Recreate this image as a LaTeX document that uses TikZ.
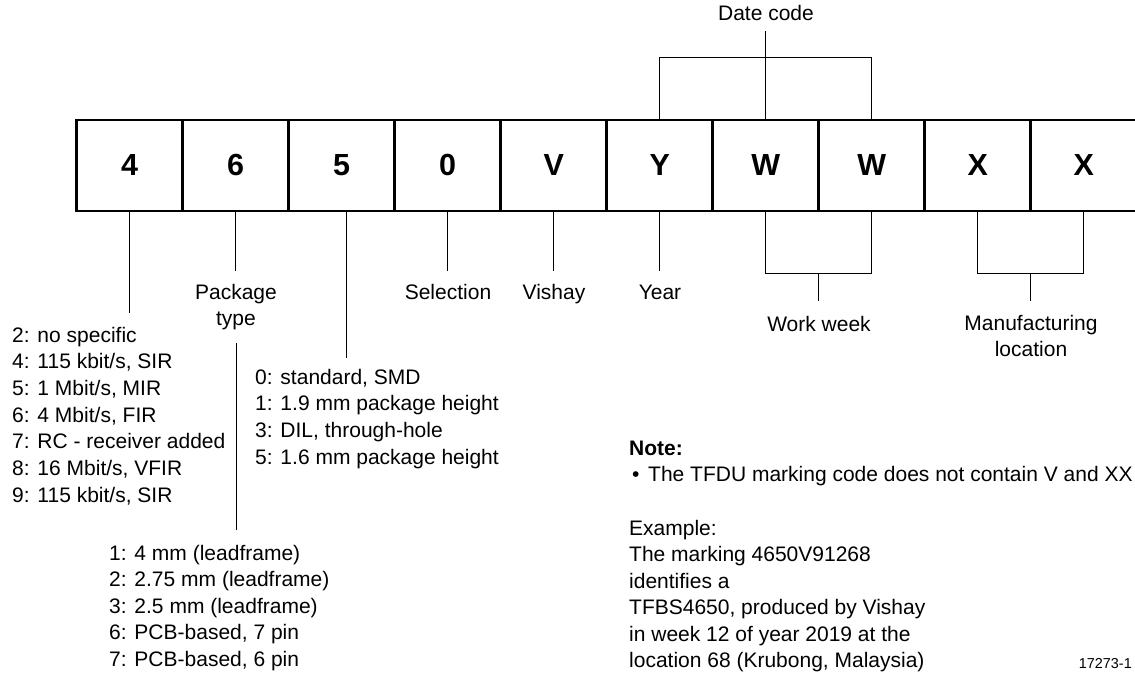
\documentclass[tikz,border=0pt]{standalone}
\usepackage{fontspec}
\setmainfont{Liberation Sans}
\usetikzlibrary{calc}
\begin{document}
\begin{tikzpicture}[x=1pt,y=-1pt,
  cell/.style={draw,line width=2.6pt,minimum width=106pt,minimum height=91pt,inner sep=0pt,
    font=\fontsize{30.5}{36}\selectfont\bfseries},
  conn/.style={line width=1pt},
  lbl/.style={inner sep=0pt,font=\fontsize{21}{25}\selectfont},
  lblb/.style={inner sep=0pt,font=\fontsize{21}{25}\selectfont\bfseries},
  small/.style={inner sep=0pt,font=\fontsize{14.4}{17}\selectfont}]
\useasboundingbox (0,0) rectangle (1135,674);
\clip (0,0) rectangle (1135,674);
% marking cells
\foreach \t [count=\i] in {4,6,5,0,V,Y,W,W,X,X} {
  \node[cell] (c\i) at ({76.7+106*(\i-1)+53},165.5) {\t};
}
% labels
\node[lbl,anchor=base] (dc) at (766,21) {Date code};
\node[lbl,anchor=base] (pk1) at (236,299) {Package};
\node[lbl,anchor=base] (pk2) at (236,325) {type};
\node[lbl,anchor=base] (sel) at (448,299) {Selection};
\node[lbl,anchor=base] (vis) at (554,299) {Vishay};
\node[lbl,anchor=base] (yr) at (660,299) {Year};
\node[lbl,anchor=base] (ww) at (819,331) {Work week};
\node[lbl,anchor=base] (mf1) at (1031,330) {Manufacturing};
\node[lbl,anchor=base] (mf2) at (1031,356) {location};
% end points of connectors
\coordinate (e1) at (c1.south |- 0,313);
\coordinate (e2) at (c2.south |- 0,271);
\coordinate (e3a) at ($(c3.south)+(5,0)$);
\coordinate (e3) at ($(c3.south)+(5,146)$);
\coordinate (e4) at (c4.south |- 0,271);
\coordinate (e5) at (c5.south |- 0,271);
\coordinate (e6) at (c6.south |- 0,271);
\coordinate (p1) at (236,343);
\coordinate (p2) at (236,530);
\coordinate (wwt) at ($(c7.south)!.5!(c8.south)+(0,61)$);
\coordinate (wwb) at ($(wwt)+(0,28)$);
\coordinate (mft) at ($(c9.south)!.5!(c10.south)+(0,61)$);
\coordinate (mfb) at ($(mft)+(0,28)$);
\coordinate (dct) at (c7.north |- 0,31);
% connectors
\draw[conn] (c1.south) -- (e1);
\draw[conn] (c2.south) -- (e2);
\draw[conn] (e3a) -- (e3);
\draw[conn] (c4.south) -- (e4);
\draw[conn] (c5.south) -- (e5);
\draw[conn] (c6.south) -- (e6);
\draw[conn] (p1) -- (p2);
\draw[conn] (c7.south) |- (wwt) -| (c8.south);
\draw[conn] (wwt) -- (wwb);
\draw[conn] (c9.south) |- (mft) -| (c10.south);
\draw[conn] (mft) -- (mfb);
\draw[conn] (c6.north) -- ++(0,-61) -| (c8.north);
\draw[conn] (c7.north) -- (dct);
% left list
\foreach \t [count=\i] in {{2: no specific},{4: 115 kbit/s, SIR},{5: 1 Mbit/s, MIR},{6: 4 Mbit/s, FIR},{7: RC - receiver added},{8: 16 Mbit/s, VFIR},{9: 115 kbit/s, SIR}} {
  \node[lbl,anchor=base west] (l\i) at (12,{342+26.67*(\i-1)}) {\t};
}
% middle list
\foreach \t [count=\i] in {{0: standard, SMD},{1: 1.9 mm package height},{3: DIL, through-hole},{5: 1.6 mm package height}} {
  \node[lbl,anchor=base west] (m\i) at (255,{384+26.67*(\i-1)}) {\t};
}
% lower list
\foreach \t [count=\i] in {{1: 4 mm (leadframe)},{2: 2.75 mm (leadframe)},{3: 2.5 mm (leadframe)},{6: PCB-based, 7 pin},{7: PCB-based, 6 pin}} {
  \node[lbl,anchor=base west] (b\i) at (109,{560+26.5*(\i-1)}) {\t};
}
% note
\node[lblb,anchor=base west] (nt) at (629,455) {Note:};
\node[lbl,anchor=base west] (bu) at (632,481.7) {•};
\node[lbl,anchor=base west] (ntx) at (648,481.7) {The TFDU marking code does not contain V and XX};
\foreach \t [count=\i] in {{Example:},{The marking 4650V91268},{identifies a},{TFBS4650, produced by Vishay},{in week 12 of year 2019 at the},{location 68 (Krubong, Malaysia)}} {
  \node[lbl,anchor=base west] (x\i) at (629,{535+26.5*(\i-1)}) {\t};
}
\node[small,anchor=base east] (id) at (1132,668) {17273-1};
\end{tikzpicture}
\end{document}
